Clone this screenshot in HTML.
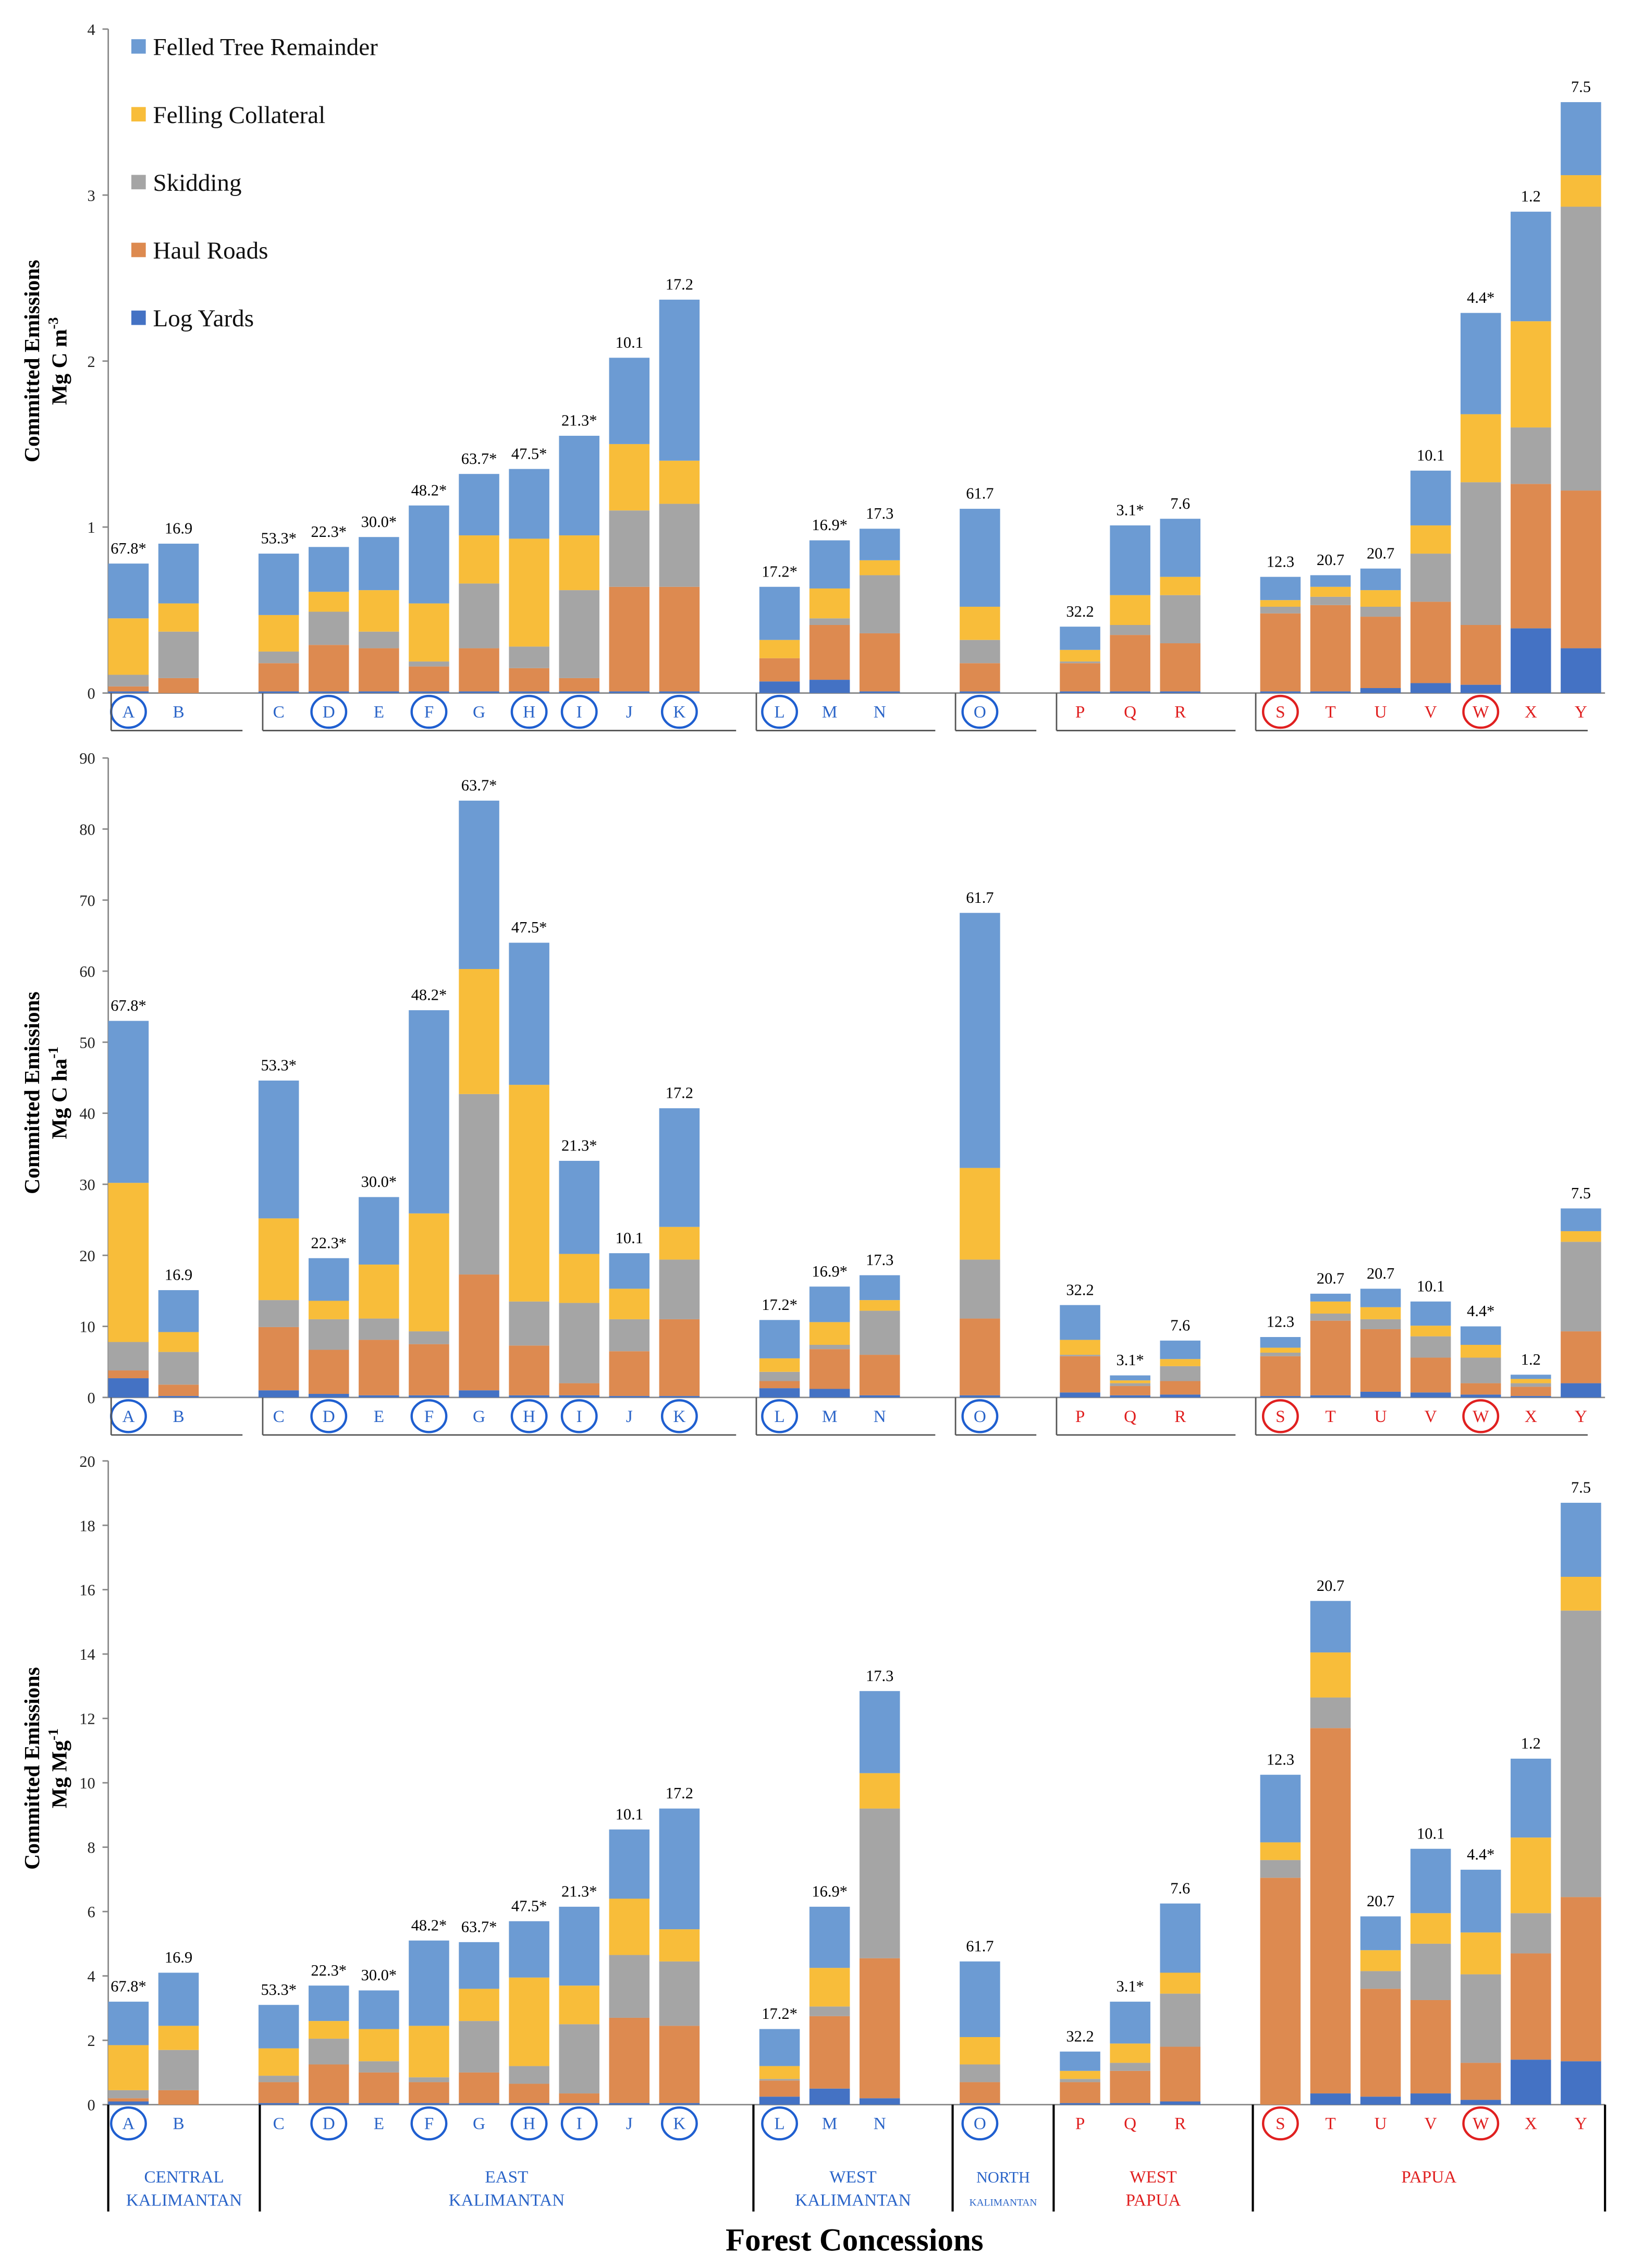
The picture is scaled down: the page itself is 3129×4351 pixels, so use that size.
<!DOCTYPE html>
<html><head><meta charset="utf-8"><style>
html,body{margin:0;padding:0;background:#fff}
svg{display:block}
text{font-family:"Liberation Serif",serif}
</style></head><body>
<svg id="chart" xmlns="http://www.w3.org/2000/svg" width="3129" height="4351" viewBox="0 0 1130 1571"></svg>
<script>
const cats=["A","B","C","D","E","F","G","H","I","J","K","L","M","N","O","P","Q","R","S","T","U","V","W","X","Y"];
const valueLabels=["67.8*","16.9","53.3*","22.3*","30.0*","48.2*","63.7*","47.5*","21.3*","10.1","17.2","17.2*","16.9*","17.3","61.7","32.2","3.1*","7.6","12.3","20.7","20.7","10.1","4.4*","1.2","7.5"];
const circled=["A","D","F","H","I","K","L","O","S","W"];
const redCats=["P","Q","R","S","T","U","V","W","X","Y"];
const seriesNames=["Log Yards","Haul Roads","Skidding","Felling Collateral","Felled Tree Remainder"];
// cumulative stack tops per series (panel 1: Mg C m-3)
const p1LogYards=[.01,0,.01,.01,.01,.01,.01,.01,.01,.01,.01,.07,.08,.01,.01,.01,.01,.01,.01,.01,.03,.06,.05,.39,.27];
const p1HaulRoads=[.04,.09,.18,.29,.27,.16,.27,.15,.09,.64,.64,.21,.41,.36,.18,.18,.35,.30,.48,.53,.46,.55,.41,1.26,1.22];
const p1Skidding=[.11,.37,.25,.49,.37,.19,.66,.28,.62,1.10,1.14,.21,.45,.71,.32,.19,.41,.59,.52,.58,.52,.84,1.27,1.60,2.93];
const p1Felling=[.45,.54,.47,.61,.62,.54,.95,.93,.95,1.50,1.40,.32,.63,.80,.52,.26,.59,.70,.56,.64,.62,1.01,1.68,2.24,3.12];
const p1Remainder=[.78,.90,.84,.88,.94,1.13,1.32,1.35,1.55,2.02,2.37,.64,.92,.99,1.11,.40,1.01,1.05,.70,.71,.75,1.34,2.29,2.90,3.56];
// panel 2: Mg C ha-1
const p2LogYards=[2.7,.2,1,.5,.3,.3,1,.3,.3,.2,.2,1.3,1.2,.3,.3,.7,.3,.4,.2,.3,.8,.7,.4,.2,2];
const p2HaulRoads=[3.8,1.8,9.9,6.7,8.1,7.5,17.3,7.3,2,6.5,11,2.3,6.8,6,11.1,5.8,1.6,2.3,5.8,10.8,9.6,5.6,2,1.5,9.3];
const p2Skidding=[7.8,6.4,13.7,11,11.1,9.3,42.7,13.5,13.3,11,19.4,3.6,7.4,12.2,19.4,6,2,4.4,6.3,11.8,11,8.6,5.6,2,21.9];
const p2Felling=[30.2,9.2,25.2,13.6,18.7,25.9,60.3,44,20.2,15.3,24,5.5,10.6,13.7,32.3,8.1,2.4,5.4,7,13.5,12.7,10.1,7.4,2.6,23.4];
const p2Remainder=[53,15.1,44.6,19.6,28.2,54.5,84,64,33.3,20.3,40.7,10.9,15.6,17.2,68.2,13,3.1,8,8.5,14.6,15.3,13.5,10,3.2,26.6];
// panel 3: Mg Mg-1
const p3LogYards=[.1,0,.05,.05,.05,.05,.05,.05,.05,.05,.05,.25,.5,.2,.05,.05,.05,.1,0,.35,.25,.35,.15,1.4,1.35];
const p3HaulRoads=[.2,.45,.7,1.25,1,.7,1,.65,.35,2.7,2.45,.75,2.75,4.55,.7,.7,1.05,1.8,7.05,11.7,3.6,3.25,1.3,4.7,6.45];
const p3Skidding=[.45,1.7,.9,2.05,1.35,.85,2.6,1.2,2.5,4.65,4.45,.8,3.05,9.2,1.25,.8,1.3,3.45,7.6,12.65,4.15,5,4.05,5.95,15.35];
const p3Felling=[1.85,2.45,1.75,2.6,2.35,2.45,3.6,3.95,3.7,6.4,5.45,1.2,4.25,10.3,2.1,1.05,1.9,4.1,8.15,14.05,4.8,5.95,5.35,8.3,16.4];
const p3Remainder=[3.2,4.1,3.1,3.7,3.55,5.1,5.05,5.7,6.15,8.55,9.2,2.35,6.15,12.85,4.45,1.65,3.2,6.25,10.25,15.65,5.85,7.95,7.3,10.75,18.7];
const p1Ticks=[0,1,2,3,4];
const p2Ticks=[0,10,20,30,40,50,60,70,80,90];
const p3Ticks=[0,2,4,6,8,10,12,14,16,18,20];
const regions=["CENTRAL|KALIMANTAN","EAST|KALIMANTAN","WEST|KALIMANTAN","NORTH|KALIMANTAN","WEST|PAPUA","PAPUA"];

const colors=["#4472C4","#DD8A50","#A5A5A5","#F8BD3A","#6C9BD3"];
const svg=document.getElementById('chart');
const NS="http://www.w3.org/2000/svg";
function mk(tag,attrs,parent){const e=document.createElementNS(NS,tag);for(const k in attrs)e.setAttribute(k,attrs[k]);(parent||svg).appendChild(e);return e;}
const catIdx=i=>i+(i>=2?1:0)+(i>=11?1:0)+(i>=14?1:0)+(i>=15?1:0)+(i>=18?1:0);
const xPos=i=>89+catIdx(i)*34.7;
const bounds=[75,180,522,660,730,868,1112];

const panels=[
 {data:[p1LogYards,p1HaulRoads,p1Skidding,p1Felling,p1Remainder],ticks:p1Ticks,y0:480,y1:20,max:4,unit:"Mg C m",sup:"-3",ty:250},
 {data:[p2LogYards,p2HaulRoads,p2Skidding,p2Felling,p2Remainder],ticks:p2Ticks,y0:968,y1:525,max:90,unit:"Mg C ha",sup:"-1",ty:757},
 {data:[p3LogYards,p3HaulRoads,p3Skidding,p3Felling,p3Remainder],ticks:p3Ticks,y0:1458,y1:1012,max:20,unit:"Mg Mg",sup:"-1",ty:1225}
];
panels.forEach((p,pi)=>{
  const g=mk('g',{});
  
  
  const yS=v=>p.y0-(v/p.max)*(p.y0-p.y1);
  mk('line',{x1:75,x2:75,y1:p.y1,y2:p.y0,stroke:'#888','stroke-width':1},g);
  mk('line',{x1:75,x2:1112,y1:p.y0,y2:p.y0,stroke:'#888','stroke-width':1},g);
  p.ticks.forEach(t=>{
    const tx=mk('text',{x:66,y:yS(t)+4,'text-anchor':'end','font-size':11,fill:'#222','font-family':'Liberation Sans, sans-serif'},g);
    tx.textContent=t;
    
    
    mk('line',{x1:71,x2:75,y1:yS(t),y2:yS(t),stroke:'#888'},g);
  });
  const at=mk('text',{transform:`translate(27,${p.ty}) rotate(-90)`,'text-anchor':'middle','font-size':15,'font-weight':'bold',fill:'#000'},g);
  at.textContent='Committed Emissions';
  
  
  const au=mk('text',{transform:`translate(46,${p.ty}) rotate(-90)`,'text-anchor':'middle','font-size':15,'font-weight':'bold',fill:'#000'},g);
  au.innerHTML=p.unit+'<tspan font-size="10" dy="-6">'+p.sup+'</tspan>';
  
  
  cats.forEach((c,i)=>{
    const x=xPos(i);let prev=0;
    p.data.forEach((arr,s)=>{
      const top=arr[i];const h=yS(prev)-yS(top);
      if(h>0){const r=mk('rect',{x:x-14,y:yS(top),width:28,height:h,fill:colors[s]},g);
        
        }
      prev=Math.max(prev,top);
    });
    const vl=mk('text',{x:x,y:yS(prev)-7,'text-anchor':'middle','font-size':11,fill:'#000'},g);
    vl.textContent=valueLabels[i];
    
    
    const red=redCats.includes(c);
    const ly=p.y0+17;
    if(circled.includes(c)){const ci=mk('ellipse',{cx:x,cy:ly-4,rx:12,ry:11,fill:'none',stroke:red?'#e02020':'#1f5fd0','stroke-width':1.6},g);
      
      }
    const cl=mk('text',{x:x,y:ly,'text-anchor':'middle','font-size':12,fill:red?'#e02020':'#2a64c8'},g);
    cl.textContent=c;
    
    
  });
  if(pi<2){
    bounds.slice(0,6).forEach((b,k)=>{
      mk('line',{x1:b+2,x2:b+2,y1:p.y0,y2:p.y0+26,stroke:'#555'},g);
      mk('line',{x1:b+2,x2:bounds[k+1]-12,y1:p.y0+26,y2:p.y0+26,stroke:'#555'},g);
    });
  } else {
    bounds.forEach(b=>mk('line',{x1:b,x2:b,y1:p.y0,y2:1532,stroke:'#000','stroke-width':1.5},g));
    regions.forEach((r,k)=>{
      const cx=(bounds[k]+bounds[k+1])/2;const parts=r.split('|');
      const red=k>=4;const small=k===3;
      const t1=mk('text',{x:cx,y:1512,'text-anchor':'middle','font-size':small?11:12,fill:red?'#e02020':'#2a64c8'},g);
      t1.textContent=parts[0];
      
      
      const t2=mk('text',{x:cx,y:1528,'text-anchor':'middle','font-size':small?7:12,fill:red?'#e02020':'#2a64c8'},g);
      t2.textContent=parts[1];
      
      
    });
  }
});
const leg=mk('g',{});


[4,3,2,1,0].forEach((s,k)=>{
  const y=33+k*47;
  const r=mk('rect',{x:91,y:y-6,width:10,height:10,fill:colors[s]},leg);
  
  
  const t=mk('text',{x:106,y:y+5,'font-size':17,fill:'#111'},leg);
  t.textContent=seriesNames[s];
  
  
});
const xt=mk('text',{x:592,y:1559,'text-anchor':'middle','font-size':22,'font-weight':'bold',fill:'#000'});
xt.textContent='Forest Concessions';


</script>
</body></html>
